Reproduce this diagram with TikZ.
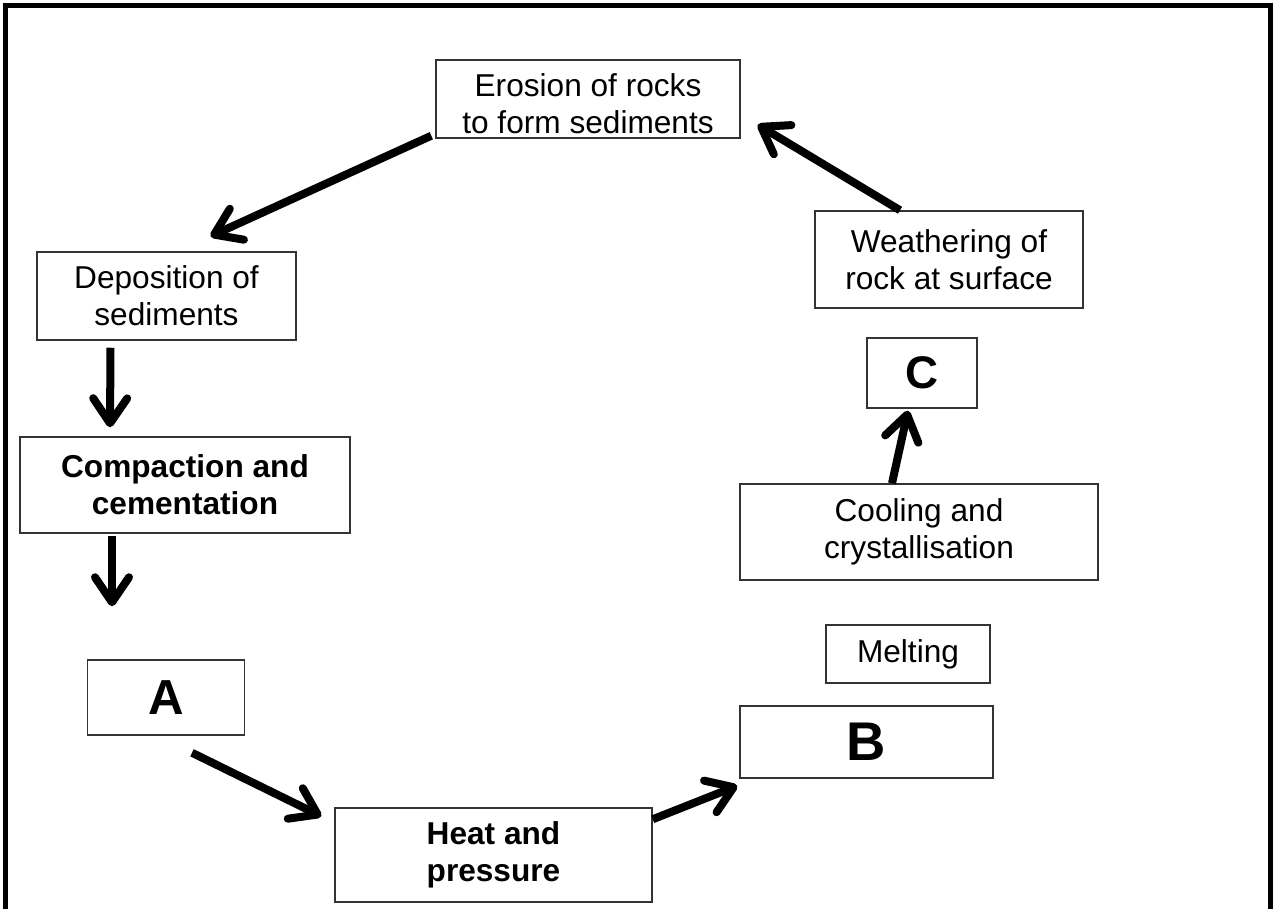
\documentclass[tikz,border=0pt]{standalone}
\usepackage{fontspec}
\setmainfont{Liberation Sans}
\usetikzlibrary{arrows.meta}

\begin{document}
\begin{tikzpicture}[x=0.02cm, y=-0.02cm,
    box/.style={draw=black!80, line width=0.03cm, align=center, inner sep=0pt,
      font=\fontsize{18}{21}\selectfont},
    boldbox/.style={box, font=\fontsize{18}{21}\selectfont\bfseries},
    letter/.style={box, font=\fontsize{#1}{#1}\selectfont\bfseries},
    flow/.style={line width=0.16cm, -{Straight Barb[round, length=0.5cm, width=0.68cm]}}]
%      \draw [help lines] (0,0) grid [step=2cm] (1273,909);

      \useasboundingbox (0,0) rectangle (1273,909);
      \draw [line width=0.09cm] (5.5,909) -- (5.5,5.5) -- (1270.5,5.5) -- (1270.5,909);

      \node [box, minimum width=6.08cm, minimum height=1.56cm,
        label={[font=\fontsize{18}{21}\selectfont, align=center, yshift=-0.1cm]center:Erosion of rocks\\to form sediments}]
        (ero) at (588,99) {};
      \node [box, minimum width=5.18cm, minimum height=1.76cm] (dep) at (166.5,296)
        {Deposition of\\sediments};
      \node [boldbox, minimum width=6.6cm, minimum height=1.92cm] (comp) at (185,485)
        {Compaction and\\cementation};
      \node [letter=28, minimum width=3.14cm, minimum height=1.5cm] (nA) at (166,697.5) {A};
      \node [boldbox, minimum width=6.34cm, minimum height=1.88cm] (heat) at (493.5,855)
        {Heat and\\pressure};
      \node [letter=31, minimum width=5.06cm, minimum height=1.44cm] (nB) at (866.5,742) {B};
      \node [box, minimum width=3.28cm, minimum height=1.16cm] (melt) at (908,654) {Melting};
      \node [box, minimum width=7.16cm, minimum height=1.92cm] (cool) at (919,532)
        {Cooling and\\crystallisation};
      \node [letter=26, minimum width=2.2cm, minimum height=1.4cm] (nC) at (922,373) {C};
      \node [box, minimum width=5.36cm, minimum height=1.94cm] (weath) at (949,259.5)
        {Weathering of\\rock at surface};

      \draw [flow] ([shift={(-4,-3)}]ero.south west) -- ([shift={(44,-15)}]dep.north);
      \draw [flow] ([shift={(-56,7)}]dep.south) -- ([shift={(-75,-9)}]comp.north);
      \draw [flow] ([shift={(-73,2)}]comp.south) -- ([shift={(-54,-53)}]nA.north);
      \draw [flow] ([shift={(26,17)}]nA.south) -- ([shift={(-13,9)}]heat.north west);
      \draw [flow] ([shift={(0,12)}]heat.north east) -- ([shift={(-2,7)}]nB.south west);
      \draw [flow] ([shift={(-27,0)}]cool.north) -- ([shift={(-14,2)}]nC.south);
      \draw [flow] ([shift={(-49,0)}]weath.north) -- ([shift={(17,-14)}]ero.south east);

\end{tikzpicture}
\end{document}
